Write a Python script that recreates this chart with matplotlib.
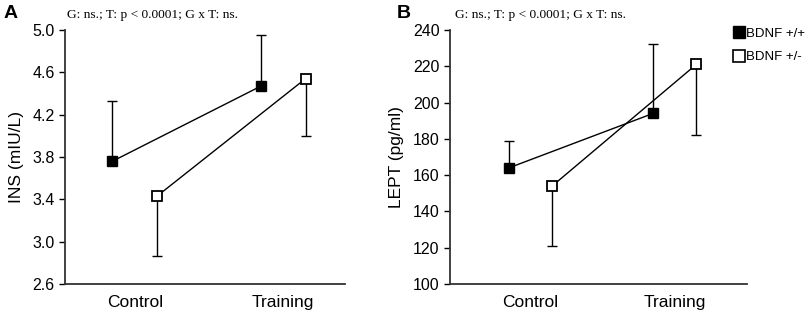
import matplotlib.pyplot as plt
from matplotlib.lines import Line2D

plt.rcParams['font.family'] = ['Liberation Sans', 'DejaVu Sans']

groups = ['Control', 'Training']
series = ['BDNF +/+', 'BDNF +/-']

# panel A: INS
ins_wt = [3.76, 4.47]
ins_wt_err = [0.57, 0.48]   # upward only
ins_het = [3.43, 4.54]
ins_het_err = [0.57, 0.54]  # downward only

# panel B: LEPT
lept_wt = [164, 194]
lept_wt_err = [15, 38]
lept_het = [154, 221]
lept_het_err = [33, 39]

stats_text = 'G: ns.; T: p < 0.0001; G x T: ns.'

fig = plt.figure(figsize=(8.09, 3.13), dpi=100)
axA = fig.add_axes([0.0803, 0.0927, 0.346, 0.8115])
axB = fig.add_axes([0.556, 0.0927, 0.367, 0.8115])

off = 0.15
x = [0, 1]


def draw(ax, wt, wt_err, het, het_err):
    xw = [i - off for i in x]
    xh = [i + off for i in x]
    # error bars first, markers on top so zero-length caps are hidden
    ax.errorbar(xw, wt, yerr=[[0, 0], wt_err], ls='none', ecolor='black',
                elinewidth=1.0, capsize=3.3, capthick=1.0, zorder=2)
    ax.errorbar(xh, het, yerr=[het_err, [0, 0]], ls='none', ecolor='black',
                elinewidth=1.0, capsize=3.3, capthick=1.0, zorder=2)
    ax.plot(xw, wt, color='black', lw=1.0, marker='s', ms=7.5,
            mfc='black', mec='black', zorder=3)
    ax.plot(xh, het, color='black', lw=1.0, marker='s', ms=7.5,
            mfc='white', mec='black', mew=1.3, zorder=3)
    ax.set_xticks(x)
    ax.set_xticklabels(groups, fontsize=12.5)
    ax.tick_params(axis='x', length=0, pad=8)
    ax.tick_params(axis='y', labelsize=11.5, length=4, width=1.0, direction='out')
    for s in ['top', 'right']:
        ax.spines[s].set_visible(False)
    for s in ['left', 'bottom']:
        ax.spines[s].set_linewidth(1.3)
        ax.spines[s].set_color('#333333')


draw(axA, ins_wt, ins_wt_err, ins_het, ins_het_err)
axA.set_xlim(-0.47, 1.415)
axA.set_ylim(2.6, 5.0)
axA.set_yticks([2.6, 3.0, 3.4, 3.8, 4.2, 4.6, 5.0])
axA.set_yticklabels(['%.1f' % v for v in [2.6, 3.0, 3.4, 3.8, 4.2, 4.6, 5.0]])
axA.set_ylabel('INS (mIU/L)', fontsize=12.5, labelpad=6)

draw(axB, lept_wt, lept_wt_err, lept_het, lept_het_err)
axB.set_xlim(-0.56, 1.50)
axB.set_ylim(100, 240)
axB.set_yticks(range(100, 241, 20))
axB.set_ylabel('LEPT (pg/ml)', fontsize=12.5, labelpad=6)

fig.text(0.004, 0.985, 'A', fontsize=14, fontweight='bold', va='top')
fig.text(0.490, 0.985, 'B', fontsize=14, fontweight='bold', va='top')
fig.text(0.083, 0.952, stats_text, fontsize=9.6, family='Liberation Serif', va='center')
fig.text(0.562, 0.952, stats_text, fontsize=9.6, family='Liberation Serif', va='center')

handles = [Line2D([], [], ls='none', marker='s', ms=8, mfc='black', mec='black'),
           Line2D([], [], ls='none', marker='s', ms=8, mfc='white', mec='black', mew=1.2)]
fig.legend(handles, series, loc='upper left', bbox_to_anchor=(0.908, 0.912),
           frameon=False, fontsize=9.5, handlelength=0.7, handletextpad=0.15,
           labelspacing=0.85, borderaxespad=0, borderpad=0)

fig.savefig('out.png', dpi=100)
